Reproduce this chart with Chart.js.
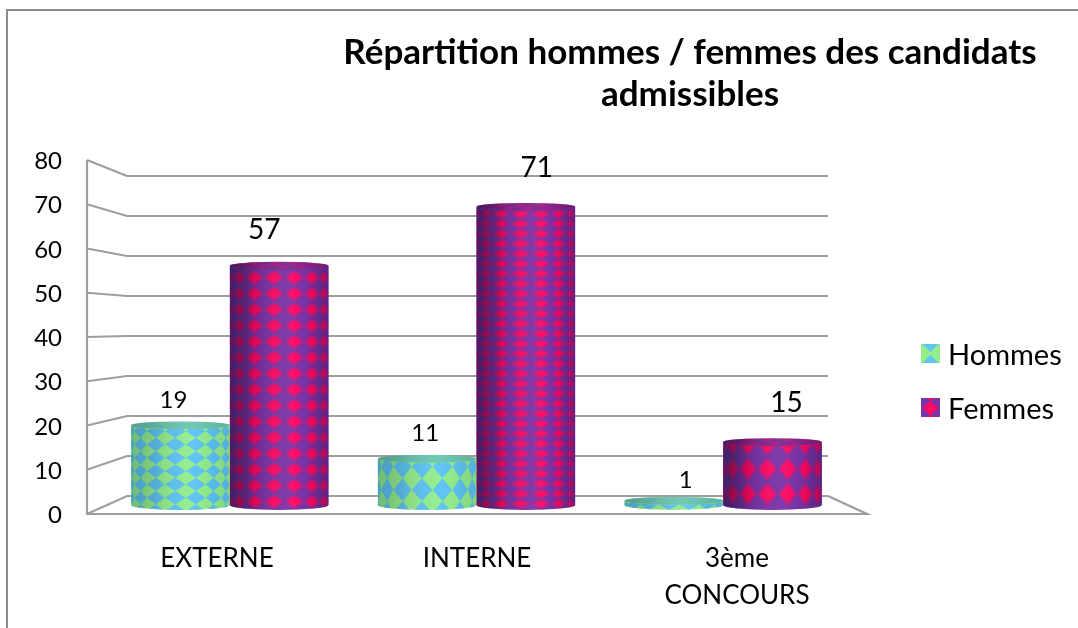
<!DOCTYPE html>
<html lang="fr">
<head>
<meta charset="utf-8">
<style>html,body{margin:0;padding:0;background:#fff}#w{position:relative;width:1078px;height:628px}</style>
<script src="https://cdn.jsdelivr.net/npm/chart.js@4"></script>
</head>
<body>
<div id="w"><canvas id="c" width="1078" height="628"></canvas></div>
<script>
// ---- data ----
const categories = ['EXTERNE', 'INTERNE', ['3ème', 'CONCOURS']];
const hommes = [19, 11, 1];
const femmes = [57, 71, 15];
const titleLines = ['Répartition hommes / femmes des candidats', 'admissibles'];
const yTicks = [0, 10, 20, 30, 40, 50, 60, 70, 80];

// ---- styles ----
const FONT = 'Lato, Carlito, Calibri, sans-serif';
const GRID = '#9e9e9e';
const looks = [
  { base:'#93ee8e', dia:'#5ec4f4', shadeL:'rgba(20,60,60,.28)', shadeM:'rgba(255,255,255,.03)', shadeR:'rgba(20,60,60,.14)', capBase:'#6fc7a5', fill:1, lblFont:24,
    rows:[13.3, 23, 10], rowPhase:[6, 8, 4], labelDy:[-25,-26,-21], labelDx:[-7,-2,12], legendY:344 },
  { base:'#7a33a8', dia:'#ff0a64', shadeL:'rgba(25,20,70,.62)', shadeM:'rgba(255,255,255,.04)', shadeR:'rgba(30,10,70,.34)', capBase:'#7c2a92', fill:.84, lblFont:28,
    rows:[16, 10, 25], rowPhase:[12, 7, 2], labelDy:[-36,-39,-39], labelDx:[-15,11,14], legendY:398 }
];
const pins = {
  bars:  { left:106.5, right:846.5, top:169, bottom:505 },
  frontX:{ left:87, right:867 },
  frontY:{ top:161.5, bottom:515.5 },
  frontNudge: 1.5,
  backY: { top:176, bottom:496 },
  backX: { left:127, right:828 },
  ry: 5, capRy: 3.8
};

function legendSwatch(kind) {
  const c = document.createElement('canvas'); c.width = 19; c.height = 19;
  const g = c.getContext('2d'), look = looks[kind];
  g.fillStyle = look.base; g.fillRect(0,0,19,19);
  g.fillStyle = look.dia;
  const d = (x,y,w,h)=>{g.beginPath();g.moveTo(x-w,y);g.lineTo(x,y-h);g.lineTo(x+w,y);g.lineTo(x,y+h);g.closePath();g.fill();};
  if (kind===0){ d(9.5,-1,9,9); d(9.5,20,9,9); }
  else { d(9.5,10,8,7); d(9.5,-2,5,5); d(9.5,21,5,5); }
  return c;
}

function pinScale(s, box) {
  Object.assign(s, box);
  s.width = s.right - s.left; s.height = s.bottom - s.top;
  s.configure();
}

const layoutPin = {
  id:'layoutPin',
  afterLayout(chart) {
    const s = chart.scales;
    pinScale(s.x, {left:pins.bars.left, right:pins.bars.right, top:pins.bars.bottom, bottom:pins.bars.bottom+1});
    pinScale(s.y, {left:pins.bars.left-1, right:pins.bars.left, top:pins.bars.top, bottom:pins.bars.bottom});
    pinScale(s.yFront, {left:0, right:pins.frontX.left, top:pins.frontY.top, bottom:pins.frontY.bottom});
    pinScale(s.yBack, {left:pins.backX.left-1, right:pins.backX.left, top:pins.backY.top, bottom:pins.backY.bottom});
    pinScale(s.xFront, {left:pins.frontX.left, right:pins.frontX.right, top:514, bottom:628});
    Object.assign(chart.chartArea, {left:pins.bars.left, right:pins.bars.right, top:pins.bars.top, bottom:pins.bars.bottom,
      width:pins.bars.right-pins.bars.left, height:pins.bars.bottom-pins.bars.top});
    const t = chart.titleBlock;
    Object.assign(t,{left:343,right:1037,top:32,bottom:116,width:694,height:84});
    const l = chart.legend;
    Object.assign(l,{left:896,right:1078,top:316,bottom:628,width:182,height:312});
  }
};

const walls = {
  id:'walls',
  beforeDraw(chart) {
    const c = chart.ctx, s = chart.scales;
    const front = v => s.yFront.getPixelForValue(v) - pins.frontNudge;
    c.save();
    c.strokeStyle = '#8c8c8c'; c.lineWidth = 2;
    c.beginPath(); c.moveTo(7,628); c.lineTo(7,10); c.lineTo(1078,10); c.stroke();
    c.strokeStyle = GRID; c.lineWidth = 2.2;
    const fx = pins.frontX.left, bx = pins.backX.left, rx = pins.backX.right, ffx = pins.frontX.right;
    c.beginPath();
    c.moveTo(fx, front(80)); c.lineTo(fx, front(0)+1);
    for (const v of yTicks) {
      const f = front(v), b = s.yBack.getPixelForValue(v);
      c.moveTo(fx,f); c.lineTo(bx,b); c.lineTo(rx,b);
    }
    const f0 = front(0), b0 = s.yBack.getPixelForValue(0);
    c.moveTo(fx,f0); c.lineTo(ffx,f0); c.lineTo(rx,b0);
    c.stroke();
    c.restore();
  }
};

function diamond(c,x,y,w,h){c.beginPath();c.moveTo(x-w,y);c.lineTo(x,y-h);c.lineTo(x+w,y);c.lineTo(x,y+h);c.closePath();c.fill();}

const cylinders = {
  id:'cylinders',
  afterDatasetsDraw(chart) {
    const c = chart.ctx, ry = pins.ry, capRy = pins.capRy;
    chart.data.datasets.forEach((ds,di)=>{
      const look = looks[di];
      chart.getDatasetMeta(di).data.forEach((bar,i)=>{
        const cx = bar.x, top = bar.y, base = bar.base, r = bar.width/2, L = cx-r, R = cx+r;
        c.save();
        c.beginPath();
        c.moveTo(L,top); c.lineTo(L,base);
        c.ellipse(cx,base,r,ry,0,Math.PI,0,true);
        c.lineTo(R,top);
        c.ellipse(cx,top,r,capRy,0,0,Math.PI,false);
        c.closePath(); c.clip();
        c.fillStyle = look.base; c.fillRect(L,top-ry,2*r,base-top+2*ry);
        c.fillStyle = look.dia;
        c.filter = look.fill<1 ? 'blur(1.1px)' : 'blur(.6px)';
        const step = 24, rowH = look.rows[i];
        for (let a=-78; a<=78; a+=step) {
          const th = a*Math.PI/180, x = cx + r*Math.sin(th);
          const w = r*(step*Math.PI/180)/2*Math.cos(th)*look.fill + (look.fill<1?.5:0);
          for (let y = top+look.rowPhase[i]; y < base+ry+rowH; y += rowH)
            diamond(c, x, y, Math.max(w,1.2), rowH/2*look.fill);
        }
        c.filter = 'none';
        const g = c.createLinearGradient(L,0,R,0);
        g.addColorStop(0,look.shadeL); g.addColorStop(.28,'rgba(0,0,0,.10)');
        g.addColorStop(.62,look.shadeM); g.addColorStop(.8,'rgba(0,0,0,.04)'); g.addColorStop(1,look.shadeR);
        c.fillStyle = g; c.fillRect(L,top-ry,2*r,base-top+2*ry);
        c.restore();
        c.save();
        c.beginPath(); c.ellipse(cx,top,r,capRy,0,0,Math.PI*2); c.clip();
        c.fillStyle = look.capBase; c.fillRect(L,top-ry,2*r,2*ry);
        c.fillStyle = look.dia; c.filter='blur(1px)'; c.globalAlpha=.55;
        for (let a=-78; a<=78; a+=step) {
          const th=a*Math.PI/180, x=cx+r*Math.sin(th);
          diamond(c,x,top-2,6*Math.cos(th)+1,1.5); diamond(c,x+8,top+1.5,6*Math.cos(th)+1,1.5);
        }
        c.filter='none'; c.globalAlpha=1;
        c.fillStyle = g; c.fillRect(L,top-ry,2*r,2*ry);
        c.restore();
      });
    });
  },
  afterDraw(chart) {
    const c = chart.ctx;
    c.save();
    c.fillStyle = '#000'; c.textAlign='center'; c.textBaseline='middle';
    chart.data.datasets.forEach((ds,di)=>{
      const look = looks[di];
      c.font = look.lblFont+'px '+FONT;
      chart.getDatasetMeta(di).data.forEach((bar,i)=>{
        c.fillText(String(ds.data[i]), bar.x+look.labelDx[i], bar.y+look.labelDy[i]);
      });
      c.drawImage(legendSwatch(di), 921, look.legendY);
    });
    c.restore();
  }
};

const ctx = document.getElementById('c').getContext('2d');
new Chart(ctx, {
  type:'bar',
  data:{ labels:categories, datasets:[
    { label:'Hommes', data:hommes, backgroundColor:looks[0].base, categoryPercentage:.8, barPercentage:1, xAxisID:'x', yAxisID:'y' },
    { label:'Femmes', data:femmes, backgroundColor:looks[1].base, categoryPercentage:.8, barPercentage:1, xAxisID:'x', yAxisID:'y' }
  ]},
  plugins:[layoutPin, walls, cylinders],
  options:{
    responsive:false, animation:false, devicePixelRatio:1,
    plugins:{
      tooltip:{enabled:false},
      title:{ display:true, text:titleLines, color:'#000', padding:0, font:{family:FONT, size:35, weight:'bold', lineHeight:1.2} },
      legend:{ position:'right', align:'start',
        labels:{ boxWidth:12.5, boxHeight:12.5, padding:25, color:'#000', font:{family:FONT,size:29} } }
    },
    scales:{
      x:{ type:'category', display:false, offset:true, grid:{display:false} },
      y:{ type:'linear', display:false, min:0, max:80, grid:{display:false} },
      yBack:{ type:'linear', display:false, min:0, max:80, position:'left', grid:{display:false} },
      yFront:{ type:'linear', position:'left', min:0, max:80, grid:{display:false,drawTicks:false}, border:{display:false},
        ticks:{ stepSize:10, padding:25, color:'#000', font:{family:FONT,size:24} } },
      xFront:{ type:'category', position:'bottom', offset:true, labels:categories, grid:{display:false,drawTicks:false}, border:{display:false},
        ticks:{ padding:26, color:'#000', maxRotation:0, autoSkip:false, font:{family:FONT,size:26,lineHeight:1.42} } }
    }
  }
});
</script>
</body>
</html>
